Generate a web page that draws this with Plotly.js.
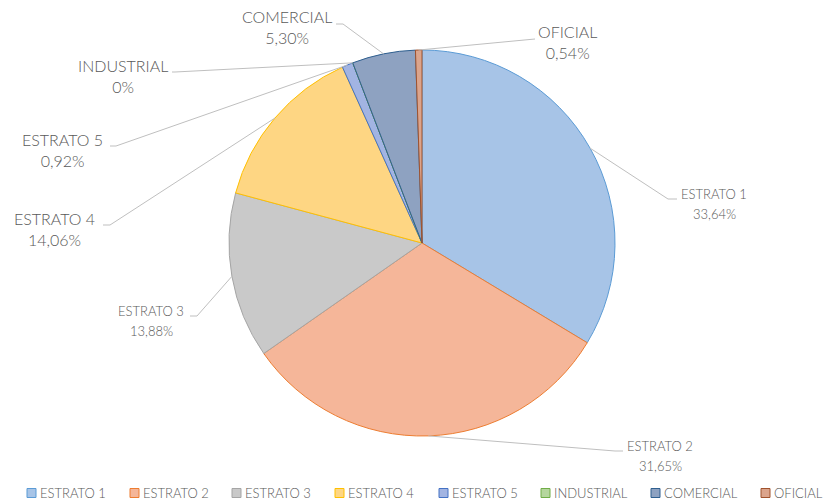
<!DOCTYPE html>
<html>
<head>
<meta charset="utf-8">
<script src="https://cdn.plot.ly/plotly-3.0.1.min.js"></script>
<style>html,body{margin:0;padding:0;background:#fff;}#chart{width:825px;height:500px;}</style>
</head>
<body>
<div id="chart"></div>
<script>
// ---- data ----
const categories = ["ESTRATO 1","ESTRATO 2","ESTRATO 3","ESTRATO 4","ESTRATO 5","INDUSTRIAL","COMERCIAL","OFICIAL"];
const values = [33.64, 31.65, 13.88, 14.06, 0.92, 0, 5.30, 0.54];
const valueLabels = ["33,64%","31,65%","13,88%","14,06%","0,92%","0%","5,30%","0,54%"];

// ---- styles ----
const fillColors = ["#a7c4e7","#f5b699","#c9c9c9","#fed683","#a2b4e2","#b5d69e","#8ea2c1","#dba48c"];
const lineColors = ["#5b9bd5","#ed7d31","#a5a5a5","#ffc000","#4472c4","#70ad47","#2f5f8f","#a0522d"];
const W = 825, H = 500;
const CX = 422, CY = 243, R = 193;
// label layout (pixels): centre x, block centre y, font size, single-block flag, elbow points
const labelLayout = [
  {cx:714, y1:194, y2:214, fs:13, pts:[[668,199],[677,199]]},
  {cx:660, y1:446, y2:466, fs:13, pts:[[615,451],[623,451]]},
  {cx:151, y1:311, y2:331, fs:13, pts:[[197,316],[190,316]]},
  {cx:54,  y1:219, y2:238, fs:16, pts:[[110,225],[103,225]]},
  {cx:62,  y1:141, y2:160, fs:16, pts:[[116,146],[110,146]]},
  {cx:123, y1:67,  y2:85,  fs:16, pts:[[175,72],[172,72]]},
  {cx:287, y1:18,  y2:36,  fs:16, pts:[[343,24],[336,24]]},
  {cx:567, y1:33,  y2:52,  fs:16, pts:[[535,39],[535,39]]}
];
// custom legend layout (pixels): left edge of each swatch
const legendX = [27, 130, 232, 335, 439, 541, 651, 761];
const legendY = 493;

const fx = p => p / W;
const fy = p => 1 - p / H;

const total = values.reduce((a, b) => a + b, 0);
let cum = 0;
const shapes = [];
const annotations = [];
const font = "Lato, 'Open Sans', sans-serif";
const txtColor = "#595959";
values.forEach((v, i) => {
  const mid = (cum + v / 2) / total;
  cum += v;
  const ang = mid * 2 * Math.PI;
  const ax = CX + R * Math.sin(ang);
  const ay = CY - R * Math.cos(ang);
  const L = labelLayout[i];
  let path = `M ${fx(ax)} ${fy(ay)}`;
  L.pts.forEach(p => { path += ` L ${fx(p[0])} ${fy(p[1])}`; });
  shapes.push({type:"path", xref:"paper", yref:"paper", path:path, line:{color:"#bfbfbf", width:1}});
  if (L.fs > 14) {
    annotations.push({xref:"paper", yref:"paper", x:fx(L.cx), y:fy((L.y1 + L.y2) / 2), xanchor:"center", yanchor:"middle",
      text:categories[i] + "<br>" + valueLabels[i], showarrow:false, borderpad:0,
      font:{family:font, size:L.fs, color:txtColor, weight:300}});
  } else {
    annotations.push({xref:"paper", yref:"paper", x:fx(L.cx), y:fy(L.y1), xanchor:"center", yanchor:"middle",
      text:categories[i], showarrow:false, borderpad:0, font:{family:font, size:L.fs, color:txtColor, weight:300}});
    annotations.push({xref:"paper", yref:"paper", x:fx(L.cx), y:fy(L.y2), xanchor:"center", yanchor:"middle",
      text:valueLabels[i], showarrow:false, borderpad:0, font:{family:font, size:L.fs, color:txtColor, weight:300}});
  }
  // legend entry
  const lx = legendX[i];
  shapes.push({type:"rect", xref:"paper", yref:"paper", x0:fx(lx), x1:fx(lx + 9), y0:fy(legendY - 4.5), y1:fy(legendY + 4.5),
    fillcolor:fillColors[i], line:{color:lineColors[i], width:1}});
  annotations.push({xref:"paper", yref:"paper", x:fx(lx + 12), y:fy(legendY), xanchor:"left", yanchor:"middle",
    text:categories[i], showarrow:false, borderpad:0, font:{family:font, size:13, color:txtColor, weight:300}});
});

const trace = {
  type:"pie",
  labels:categories,
  values:values,
  sort:false,
  direction:"clockwise",
  rotation:0,
  textinfo:"none",
  hoverinfo:"label+percent",
  marker:{colors:fillColors, line:{color:lineColors, width:1}},
  domain:{x:[(CX - R) / W, (CX + R) / W], y:[1 - (CY + R) / H, 1 - (CY - R) / H]}
};

const layout = {
  width:W, height:H,
  margin:{l:0, r:0, t:0, b:0, autoexpand:false},
  paper_bgcolor:"#ffffff",
  showlegend:false,
  shapes:shapes,
  annotations:annotations
};

Plotly.newPlot("chart", [trace], layout, {displayModeBar:false, staticPlot:true});
</script>
</body>
</html>
